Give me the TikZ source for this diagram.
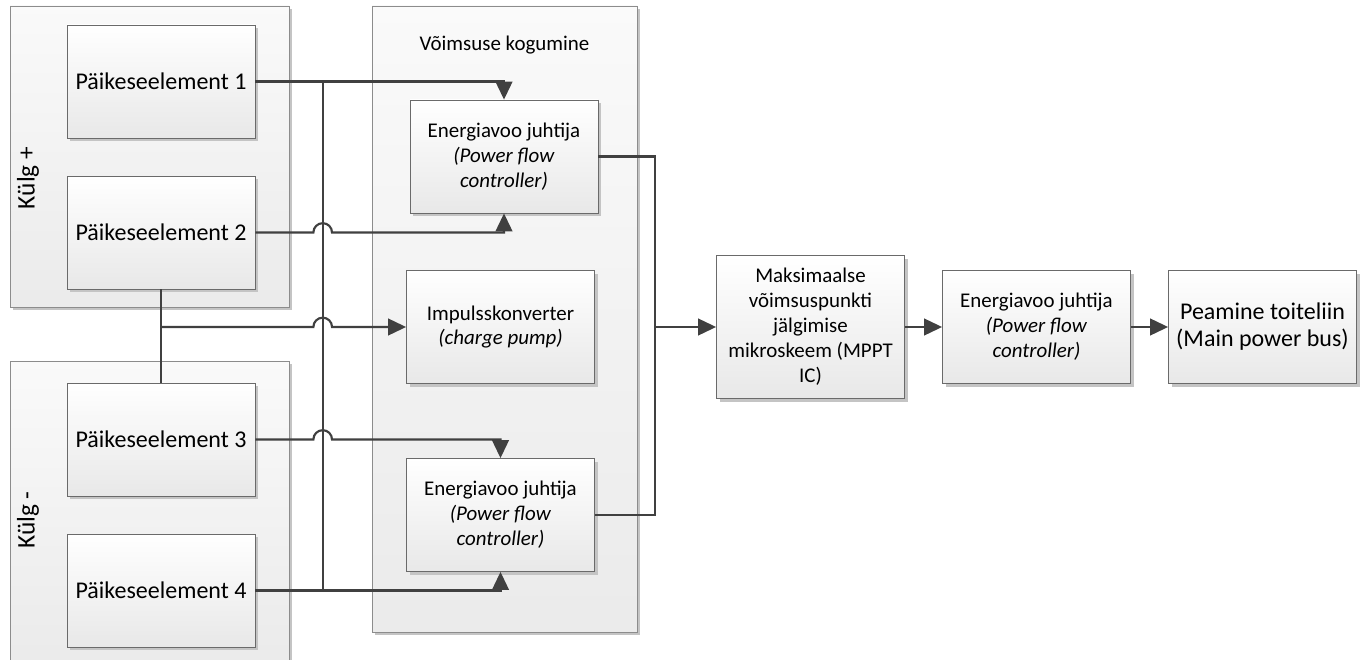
\documentclass[tikz,border=0pt]{standalone}
\usepackage{fontspec}
\setmainfont{Carlito}
\usetikzlibrary{arrows.meta,shadows,calc}

\definecolor{wirecol}{HTML}{404040}
\definecolor{edgecol}{HTML}{6A6A6A}
\definecolor{paneledge}{HTML}{8C8C8C}
\definecolor{shadowcol}{HTML}{C4C4C4}

\tikzset{
  shade box/.style={drop shadow={shadow xshift=2.3pt, shadow yshift=-2.3pt, fill=shadowcol, opacity=1}},
  block/.style={draw=edgecol, line width=0.6pt, top color=white, bottom color=black!9,
    align=center, inner sep=2pt, minimum width=141pt, minimum height=84.75pt, shade box},
  panel/.style={draw=paneledge, line width=0.6pt, top color=black!2, bottom color=black!8,
    inner sep=0pt, shade box},
  smalltxt/.style={font=\fontsize{15.7}{18.7}\selectfont},
  bigtxt/.style={font=\fontsize{18}{20.3}\selectfont},
  sidetxt/.style={font=\fontsize{19}{22}\selectfont},
  wire/.style={draw=wirecol, line width=1.6pt},
  arr/.style={wire, -{Triangle[length=13.5pt,width=12.5pt]}},
}

\begin{document}
\begin{tikzpicture}[x=0.75pt,y=-0.75pt]
\useasboundingbox (0,0) rectangle (1368,660);
\clip (0,0) rectangle (1368,660);
\fill[white] (0,0) rectangle (1368,660);

% group panels
\node[panel, minimum width=209.25pt, minimum height=225.75pt] (kplus) at (149.5,156.5) {};
\node[panel, minimum width=209.25pt, minimum height=225.75pt] (kminus) at (149.5,511.5) {};
\node[panel, minimum width=198.75pt, minimum height=469.5pt] (collect) at (504.5,319) {};

\node[sidetxt, rotate=90] (kplustxt) at (28,178) {Külg +};
\node[sidetxt, rotate=90] (kminustxt) at (28,520) {Külg -};
\node[smalltxt] (collecttxt) at (504.5,45) {Võimsuse kogumine};

% solar cells
\node[block, bigtxt] (p1) at (161,81.5) {Päikeseelement 1};
\node[block, bigtxt] (p2) at (161,232.5) {Päikeseelement 2};
\node[block, bigtxt] (p3) at (161,439.5) {Päikeseelement 3};
\node[block, bigtxt] (p4) at (161,590.5) {Päikeseelement 4};

% power collection stage
\node[block, smalltxt] (pfc1) at (504,156.5) {Energiavoo juhtija\\\textit{(Power flow}\\\textit{controller)}};
\node[block, smalltxt] (cp) at (500.5,327) {Impulsskonverter\\\textit{(charge pump)}};
\node[block, smalltxt] (pfc2) at (500.5,515) {Energiavoo juhtija\\\textit{(Power flow}\\\textit{controller)}};

% output chain
\node[block, smalltxt, minimum height=107.25pt] (mppt) at (810.5,327) {Maksimaalse\\võimsuspunkti\\jälgimise\\mikroskeem (MPPT\\IC)};
\node[block, smalltxt] (pfc3) at (1036.5,327) {Energiavoo juhtija\\\textit{(Power flow}\\\textit{controller)}};
\node[block, bigtxt] (mainbus) at (1262.5,327) {Peamine toiteliin\\(Main power bus)};

% routing columns
\coordinate (busx) at (322.7,0);
\coordinate (mergex) at (655,0);

% shared vertical bus
\draw[wire] (p1.east -| busx) -- (p4.east -| busx);

% cell outputs
\draw[arr] (p1.east) -| (pfc1.north);
\draw[arr] (p2.east) -- ([xshift=-7pt]p2.east -| busx)
  arc[start angle=180, end angle=0, radius=7pt] -| (pfc1.south);
\draw[wire] (p2.south) -- (p3.north);
\draw[arr] (p2.south |- cp.west) -- ([xshift=-7pt]cp.west -| busx)
  arc[start angle=180, end angle=0, radius=7pt] -- (cp.west);
\draw[arr] (p3.east) -- ([xshift=-7pt]p3.east -| busx)
  arc[start angle=180, end angle=0, radius=7pt] -| (pfc2.north);
\draw[arr] (p4.east) -| (pfc2.south);

% merge of controller outputs
\draw[wire] (pfc1.east) -| (pfc2.east -| mergex) -- (pfc2.east);
\draw[arr] (mppt.west -| mergex) -- (mppt.west);
\draw[arr] (mppt.east) -- (pfc3.west);
\draw[arr] (pfc3.east) -- (mainbus.west);
\end{tikzpicture}
\end{document}
